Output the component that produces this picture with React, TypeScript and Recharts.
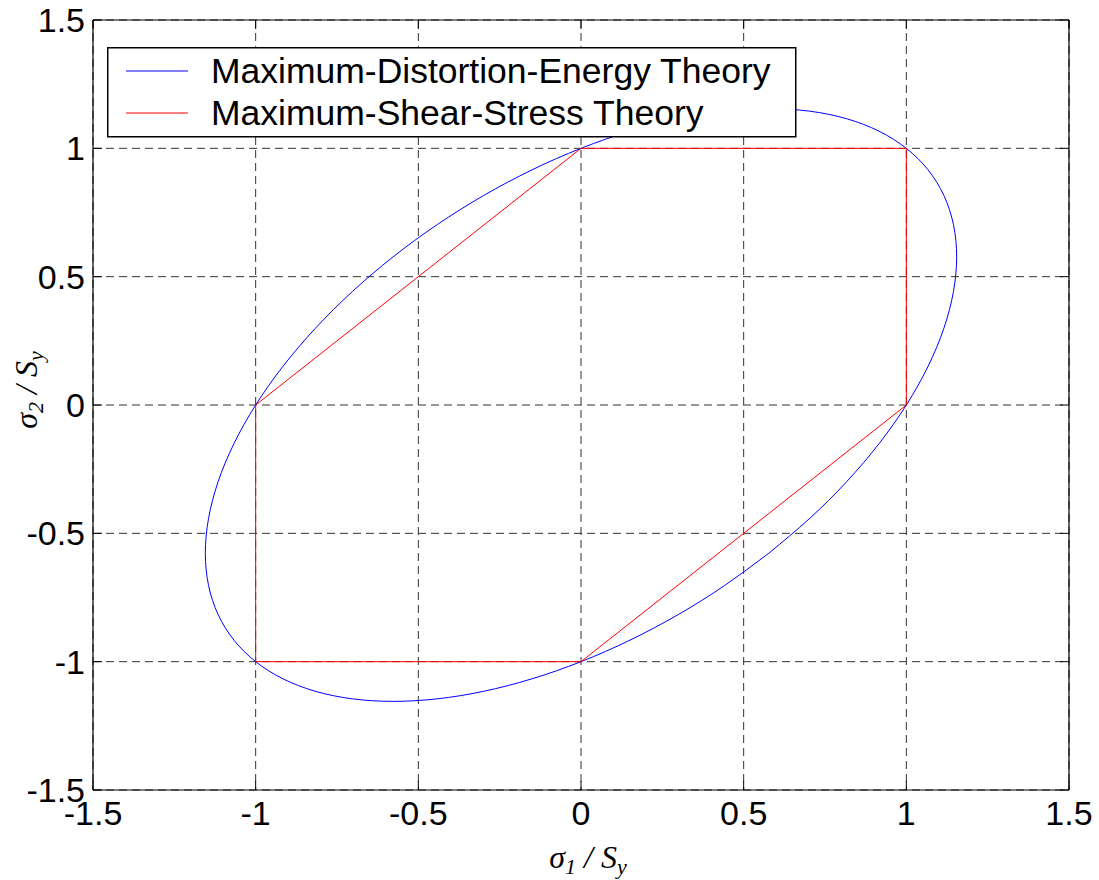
import React from 'react';
import { LineChart, Line, XAxis, YAxis, CartesianGrid, Legend } from 'recharts';

const xTicks = [-1.5, -1, -0.5, 0, 0.5, 1, 1.5];
const yTicks = [-1.5, -1, -0.5, 0, 0.5, 1, 1.5];

// Maximum-Distortion-Energy (von Mises) boundary
const distortionX = [0.5774, 0.4419, 0.2989, 0.1507, 0, -0.1507, -0.2989, -0.4419, -0.5774, -0.7029, -0.8165, -0.9161, -1, -1.0668, -1.1154, -1.1448, -1.1547, -1.1448, -1.1154, -1.0668, -1, -0.9161, -0.8165, -0.7029, -0.5774, -0.4419, -0.2989, -0.1507, 0, 0.1507, 0.2989, 0.4419, 0.5774, 0.7029, 0.8165, 0.9161, 1, 1.0668, 1.1154, 1.1448, 1.1547, 1.1448, 1.1154, 1.0668, 1.0, 0.9161, 0.8165, 0.7029, 0.5774];
const distortionY = [-0.5774, -0.7029, -0.8165, -0.9161, -1, -1.0668, -1.1154, -1.1448, -1.1547, -1.1448, -1.1154, -1.0668, -1, -0.9161, -0.8165, -0.7029, -0.5774, -0.4419, -0.2989, -0.1507, 0, 0.1507, 0.2989, 0.4419, 0.5774, 0.7029, 0.8165, 0.9161, 1, 1.0668, 1.1154, 1.1448, 1.1547, 1.1448, 1.1154, 1.0668, 1, 0.9161, 0.8165, 0.7029, 0.5774, 0.4419, 0.2989, 0.1507, 0.0, -0.1507, -0.2989, -0.4419, -0.5774];

// Maximum-Shear-Stress (Tresca) hexagon
const shearX = [1, 1, 0, -1, -1, 0, 1];
const shearY = [0, 1, 1, 0, -1, -1, 0];

const distortionData = distortionX.map((x, i) => ({ x, y: distortionY[i] }));
const shearData = shearX.map((x, i) => ({ x, y: shearY[i] }));

const SANS = '"Liberation Sans", Arial, Helvetica, sans-serif';
const SERIF = '"Liberation Serif", "Times New Roman", serif';

const renderLegend = (props: any) => {
  const payload = props.payload || [];
  return (
    <svg width={690} height={91} style={{ display: 'block' }}>
      <rect x={0.75} y={0.75} width={688} height={89} fill="#fff" stroke="#000" strokeWidth={1.5} />
      {payload.map((p: any, i: number) => (
        <g key={i}>
          <line x1={19} x2={81} y1={24 + i * 42} y2={24 + i * 42} stroke={p.color} strokeWidth={1} />
          <text x={104} y={36 + i * 42} fontFamily={SANS} fontSize={35.5} fill="#000">
            {p.value}
          </text>
        </g>
      ))}
    </svg>
  );
};

const XLabel = (props: any) => {
  const vb = props.viewBox || { x: 0, y: 0, width: 0, height: 0 };
  const cx = vb.x + vb.width / 2 + 7;
  const y = vb.y + 78;
  return (
    <text x={cx} y={y} textAnchor="middle" fontFamily={SERIF} fontStyle="italic" fontSize={32} fill="#000">
      σ<tspan fontSize={22} dy={6}>1</tspan>
      <tspan dy={-6}> / S</tspan>
      <tspan fontSize={22} dy={6}>y</tspan>
    </text>
  );
};

const YLabel = (props: any) => {
  const vb = props.viewBox || { x: 0, y: 0, width: 0, height: 0 };
  const cy = vb.y + vb.height / 2 - 15;
  const x = 37;
  return (
    <text
      x={x}
      y={cy}
      textAnchor="middle"
      transform={`rotate(-90, ${x}, ${cy})`}
      fontFamily={SERIF}
      fontStyle="italic"
      fontSize={32}
      fill="#000"
    >
      σ<tspan fontSize={22} dy={6}>2</tspan>
      <tspan dy={-6}> / S</tspan>
      <tspan fontSize={22} dy={6}>y</tspan>
    </text>
  );
};

const emptyTick = () => <g />;

export default function App() {
  return (
    <div style={{ position: 'absolute', left: 0, top: 0, width: 1099, height: 880, background: '#fff' }}>
      <LineChart
        width={1099}
        height={880}
        margin={{ top: 19, right: 29, bottom: 10, left: 13 }}
      >
        <XAxis
          type="number"
          dataKey="x"
          domain={[-1.5, 1.5]}
          ticks={xTicks}
          allowDataOverflow
          height={80}
          tickSize={-9}
          tickMargin={20}
          tickLine={{ stroke: '#000' }}
          axisLine={{ stroke: '#000', strokeWidth: 1.2 }}
          tick={{ fill: '#000', fontSize: 34, fontFamily: SANS }}
          label={<XLabel />}
        />
        <XAxis
          xAxisId="top"
          orientation="top"
          type="number"
          dataKey="x"
          domain={[-1.5, 1.5]}
          ticks={xTicks}
          allowDataOverflow
          height={1}
          tickSize={-9}
          tickLine={{ stroke: '#000' }}
          axisLine={{ stroke: '#000', strokeWidth: 1.2 }}
          tick={emptyTick}
        />
        <YAxis
          type="number"
          dataKey="y"
          domain={[-1.5, 1.5]}
          ticks={yTicks}
          allowDataOverflow
          width={80}
          tickSize={-9}
          tickMargin={17}
          tickLine={{ stroke: '#000' }}
          axisLine={{ stroke: '#000', strokeWidth: 1.2 }}
          tick={{ fill: '#000', fontSize: 34, fontFamily: SANS }}
          label={<YLabel />}
        />
        <YAxis
          yAxisId="right"
          orientation="right"
          type="number"
          dataKey="y"
          domain={[-1.5, 1.5]}
          ticks={yTicks}
          allowDataOverflow
          width={1}
          tickSize={-9}
          tickLine={{ stroke: '#000' }}
          axisLine={{ stroke: '#000', strokeWidth: 1.2 }}
          tick={emptyTick}
        />
        <Line
          data={distortionData}
          dataKey="y"
          name="Maximum-Distortion-Energy Theory"
          type="natural"
          stroke="#0000ff"
          strokeWidth={1}
          dot={false}
          activeDot={false}
          isAnimationActive={false}
        />
        <Line
          data={shearData}
          dataKey="y"
          name="Maximum-Shear-Stress Theory"
          type="linear"
          stroke="#ff0000"
          strokeWidth={1}
          dot={false}
          activeDot={false}
          isAnimationActive={false}
        />
        <CartesianGrid stroke="#333" strokeDasharray="8 5" strokeWidth={1} fill="none" />
        <Legend
          layout="horizontal"
          verticalAlign="middle"
          align="center"
          content={renderLegend}
          wrapperStyle={{ left: 107, top: 47, width: 690, height: 91 }}
        />
      </LineChart>
    </div>
  );
}
